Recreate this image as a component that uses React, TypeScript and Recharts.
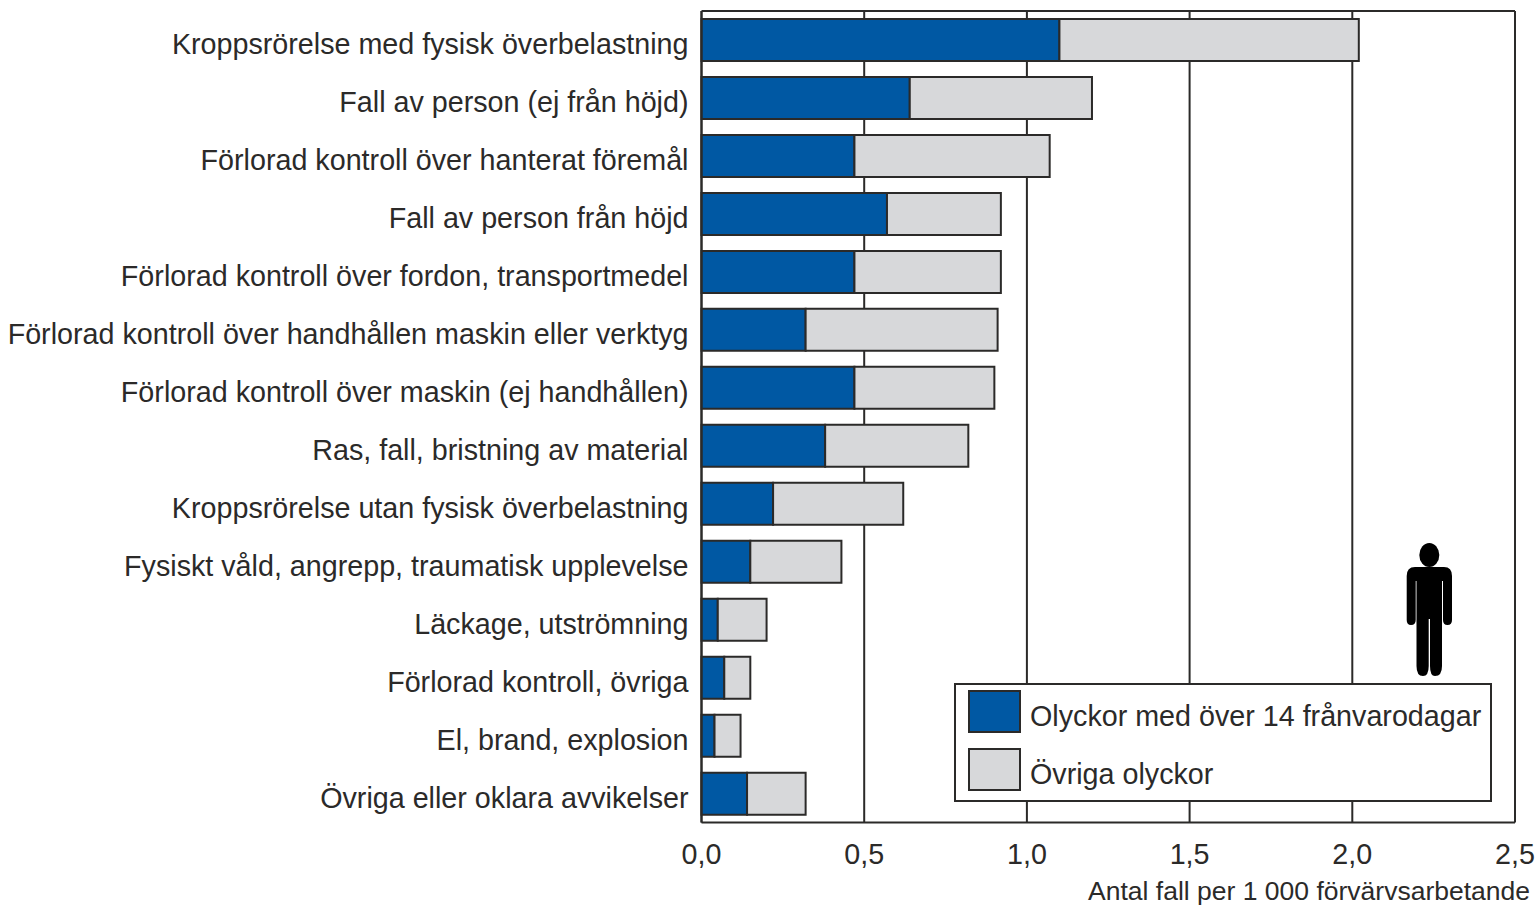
import React from 'react';
import { BarChart, Bar, XAxis, YAxis, CartesianGrid, Legend } from 'recharts';

const categories = [
  'Kroppsrörelse med fysisk överbelastning',
  'Fall av person (ej från höjd)',
  'Förlorad kontroll över hanterat föremål',
  'Fall av person från höjd',
  'Förlorad kontroll över fordon, transportmedel',
  'Förlorad kontroll över handhållen maskin eller verktyg',
  'Förlorad kontroll över maskin (ej handhållen)',
  'Ras, fall, bristning av material',
  'Kroppsrörelse utan fysisk överbelastning',
  'Fysiskt våld, angrepp, traumatisk upplevelse',
  'Läckage, utströmning',
  'Förlorad kontroll, övriga',
  'El, brand, explosion',
  'Övriga eller oklara avvikelser',
];
const severe = [1.1, 0.64, 0.47, 0.57, 0.47, 0.32, 0.47, 0.38, 0.22, 0.15, 0.05, 0.07, 0.04, 0.14];
const other = [0.92, 0.56, 0.6, 0.35, 0.45, 0.59, 0.43, 0.44, 0.4, 0.28, 0.15, 0.08, 0.08, 0.18];
const xTicks = [0, 0.5, 1, 1.5, 2, 2.5];

const data = categories.map((name, i) => ({ name, severe: severe[i], other: other[i] }));

const FONT = '"Liberation Sans", Arial, sans-serif';
const INK = '#2b2a29';
const BLUE = '#0058a3';
const GREY = '#d7d8da';

const LegendBox = () => (
  <div
    style={{
      width: 538,
      height: 119,
      boxSizing: 'border-box',
      background: '#fff',
      border: `2px solid ${INK}`,
      fontFamily: FONT,
      fontSize: 28.7,
      color: INK,
      position: 'relative',
    }}
  >
    {[
      { label: 'Olyckor med över 14 frånvarodagar', color: BLUE, top: 5 },
      { label: 'Övriga olyckor', color: GREY, top: 63 },
    ].map((item) => (
      <div key={item.label} style={{ position: 'absolute', left: 12, top: item.top, display: 'flex', alignItems: 'center', whiteSpace: 'nowrap' }}>
        <div style={{ width: 53, height: 43, boxSizing: 'border-box', background: item.color, border: `2px solid ${INK}`, marginRight: 9 }} />
        <span style={{ position: 'relative', top: 5 }}>{item.label}</span>
      </div>
    ))}
  </div>
);

// small standing figure in the lower right corner
const Person = () => (
  <svg width={60} height={140} style={{ position: 'absolute', left: 1400, top: 540 }}>
    <ellipse cx={29.3} cy={15} rx={10} ry={12} fill="#000" />
    <path
      d="M15 27 H44 Q52 27 52 36 V80 Q52 85 47.5 85 Q43 85 43 80 V41 H42 V126 Q42 136 35 136 Q30 136 30 126 V79 H28.7 V126 Q28.7 136 23 136 Q16.5 136 16.5 126 V41 H15.7 V80 Q15.7 85 11 85 Q6.7 85 6.7 80 V36 Q6.7 27 15 27 Z"
      fill="#000"
    />
  </svg>
);

export default function App() {
  return (
    <div style={{ position: 'absolute', left: 0, top: 0, width: 1538, height: 905, background: '#fff' }}>
      <BarChart
        width={1538}
        height={905}
        data={data}
        layout="vertical"
        margin={{ top: 10, right: 23, bottom: 0, left: 0 }}
        barCategoryGap={0}
      >
        <CartesianGrid horizontal={false} vertical stroke={INK} strokeWidth={2} verticalValues={xTicks} />
        <XAxis
          type="number"
          domain={[0, 2.5]}
          ticks={xTicks}
          height={82.4}
          interval={0}
          tickLine={false}
          tickSize={0}
          tickMargin={21}
          axisLine={{ stroke: INK, strokeWidth: 2 }}
          tick={{ fontSize: 28.7, fontFamily: FONT, fill: INK }}
          tickFormatter={(v: number) => v.toFixed(1).replace('.', ',')}
          label={{
            value: 'Antal fall per 1 000 förvärvsarbetande',
            position: 'insideBottomRight',
            offset: 0,
            dx: 15,
            dy: -5,
            fontSize: 26.5,
            fontFamily: FONT,
            fill: INK,
          }}
        />
        <XAxis
          xAxisId="top"
          orientation="top"
          type="number"
          domain={[0, 2.5]}
          height={1}
          tick={false}
          tickLine={false}
          axisLine={{ stroke: INK, strokeWidth: 2 }}
        />
        <YAxis
          type="category"
          dataKey="name"
          width={701.5}
          interval={0}
          padding={{ top: 0, bottom: 0 }}
          tickLine={false}
          tickSize={0}
          tickMargin={13}
          axisLine={{ stroke: INK, strokeWidth: 2 }}
          tick={{ fontSize: 28.7, fontFamily: FONT, fill: INK, dy: 4 }}
        />
        <Legend
          content={() => <LegendBox />}
          layout="horizontal"
          verticalAlign="middle"
          align="center"
          wrapperStyle={{ left: 954, top: 683, width: 538, height: 119, bottom: 'auto', right: 'auto' }}
        />
        <Bar dataKey="severe" stackId="a" barSize={42} fill={BLUE} stroke={INK} strokeWidth={2} isAnimationActive={false} />
        <Bar dataKey="other" stackId="a" barSize={42} fill={GREY} stroke={INK} strokeWidth={2} isAnimationActive={false} />
      </BarChart>
      <Person />
    </div>
  );
}
